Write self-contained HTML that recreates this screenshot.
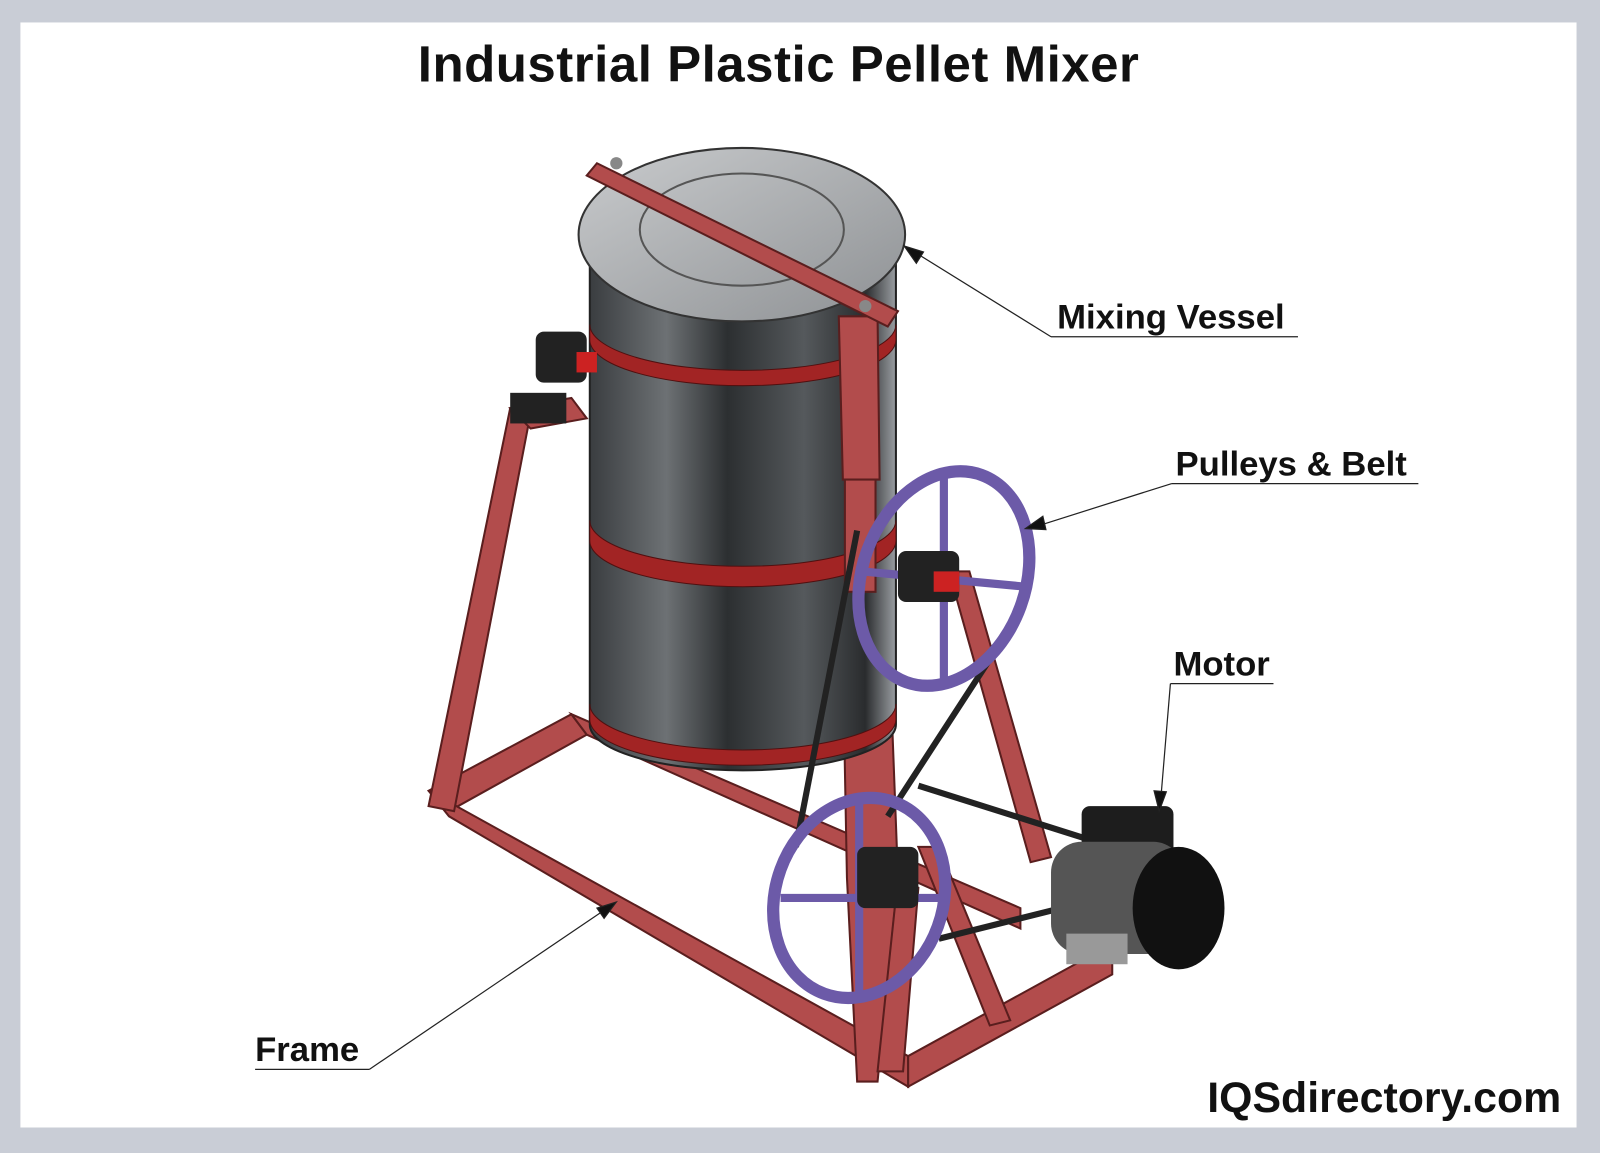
<!DOCTYPE html>
<html><head><meta charset="utf-8"><style>
html,body{margin:0;padding:0;background:#fff}
svg{display:block}
text{font-family:"Liberation Sans",sans-serif;font-weight:bold;fill:#111}
</style></head><body>
<svg width="1600" height="1153" viewBox="0 0 1568 1130" preserveAspectRatio="none">
<defs>
<linearGradient id="drum" x1="0" x2="1" y1="0" y2="0">
<stop offset="0" stop-color="#3a3d40"/><stop offset="0.25" stop-color="#6d7174"/><stop offset="0.45" stop-color="#2c2f31"/><stop offset="0.7" stop-color="#55595c"/><stop offset="0.9" stop-color="#2a2c2e"/><stop offset="1" stop-color="#9a9ea2"/>
</linearGradient>
<linearGradient id="lid" x1="0" x2="1" y1="0" y2="1">
<stop offset="0" stop-color="#c9cbcd"/><stop offset="1" stop-color="#8e9194"/>
</linearGradient>
</defs>
<rect x="0" y="0" width="1568" height="1130" fill="#c9cdd6"/>
<rect x="20" y="22" width="1525" height="1083" fill="#fff"/>
<text x="763" y="80" font-size="50" text-anchor="middle" letter-spacing="0.5">Industrial Plastic Pellet Mixer</text>

<g fill="#b24c4c" stroke="#5a1e1e" stroke-width="2">
<polygon points="420,775 560,700 575,720 440,795"/>
<polygon points="420,775 440,800 890,1065 890,1035"/>
<polygon points="890,1035 1090,925 1090,955 890,1065"/>
<polygon points="560,700 1000,890 1000,910 575,720"/>
<polygon points="420,790 500,400 520,405 445,795"/>
<polygon points="500,400 560,390 575,410 520,420"/>
<polygon points="820,330 860,330 880,860 860,1060 840,1060 830,860"/>
<polygon points="930,560 950,560 1030,840 1010,845"/>
<polygon points="900,830 920,830 990,1000 970,1005"/>
<polygon points="860,1050 880,860 900,870 885,1050"/>
</g>
<path d="M578,235 L578,710 A150,45 0 0 0 878,710 L878,235 Z" fill="url(#drum)" stroke="#222" stroke-width="2"/>
<g fill="#a22424" stroke="#501010">
<path d="M578,318 A150,45 0 0 0 878,318 L878,333 A150,45 0 0 1 578,333 Z"/>
<path d="M578,510 A150,45 0 0 0 878,510 L878,530 A150,45 0 0 1 578,530 Z"/>
<path d="M578,690 A150,45 0 0 0 878,690 L878,705 A150,45 0 0 1 578,705 Z"/>
</g>
<polygon points="822,310 860,310 862,470 826,470" fill="#b24c4c" stroke="#5a1e1e" stroke-width="2"/>
<rect x="828" y="470" width="30" height="110" fill="#b24c4c" stroke="#5a1e1e" stroke-width="2"/>
<ellipse cx="727" cy="230" rx="160" ry="85" fill="url(#lid)" stroke="#333" stroke-width="2"/>
<ellipse cx="727" cy="225" rx="100" ry="55" fill="none" stroke="#555" stroke-width="2"/>
<polygon points="575,172 585,160 880,305 870,320" fill="#b24c4c" stroke="#5a1e1e" stroke-width="2"/>
<circle cx="604" cy="160" r="6" fill="#888"/><circle cx="848" cy="300" r="6" fill="#888"/>
<rect x="525" y="325" width="50" height="50" rx="8" fill="#222"/>
<rect x="565" y="345" width="20" height="20" fill="#c22"/>
<rect x="500" y="385" width="55" height="30" fill="#222"/>
<g stroke="#222" stroke-width="6" fill="none">
<line x1="840" y1="520" x2="780" y2="830"/>
<line x1="1000" y1="600" x2="870" y2="800"/>
<line x1="900" y1="770" x2="1090" y2="830"/>
<line x1="920" y1="920" x2="1080" y2="880"/>
</g>
<g fill="none" stroke="#6c5aa8" stroke-width="12">
<ellipse cx="925" cy="567" rx="80" ry="108" transform="rotate(20 925 567)"/>
<ellipse cx="842" cy="880" rx="82" ry="100" transform="rotate(20 842 880)"/>
</g>
<g stroke="#6c5aa8" stroke-width="8">
<line x1="925" y1="465" x2="925" y2="670"/><line x1="845" y1="560" x2="1005" y2="575"/>
<line x1="842" y1="785" x2="842" y2="975"/><line x1="765" y1="880" x2="920" y2="880"/>
</g>
<rect x="880" y="540" width="60" height="50" rx="8" fill="#222"/>
<rect x="915" y="560" width="25" height="20" fill="#c22"/>
<rect x="840" y="830" width="60" height="60" rx="8" fill="#222"/>
<rect x="1060" y="790" width="90" height="60" rx="8" fill="#1d1d1d"/>
<rect x="1030" y="825" width="130" height="110" rx="30" fill="#555"/>
<ellipse cx="1155" cy="890" rx="45" ry="60" fill="#111"/>
<rect x="1045" y="915" width="60" height="30" fill="#999"/>

<g stroke="#222" stroke-width="1.2" fill="#111">
<line x1="893" y1="245" x2="1030" y2="330"/><line x1="1030" y1="330" x2="1272" y2="330"/>
<polygon points="886,241 905,247 898,258"/>
<line x1="1012" y1="517" x2="1148" y2="474"/><line x1="1148" y1="474" x2="1390" y2="474"/>
<polygon points="1005,518 1022,506 1025,519"/>
<line x1="1147" y1="670" x2="1137" y2="790"/><line x1="1147" y1="670" x2="1248" y2="670"/>
<polygon points="1136,795 1131,775 1143,776"/>
<line x1="598" y1="888" x2="362" y2="1048"/><line x1="362" y1="1048" x2="250" y2="1048"/>
<polygon points="604,884 592,900 585,890"/>
</g>
<text x="1036" y="322" font-size="34">Mixing Vessel</text>
<text x="1152" y="466" font-size="34">Pulleys &amp; Belt</text>
<text x="1150" y="662" font-size="34">Motor</text>
<text x="250" y="1040" font-size="34">Frame</text>
<text x="1530" y="1090" font-size="42" text-anchor="end">IQSdirectory.com</text>
</svg>
</body></html>
